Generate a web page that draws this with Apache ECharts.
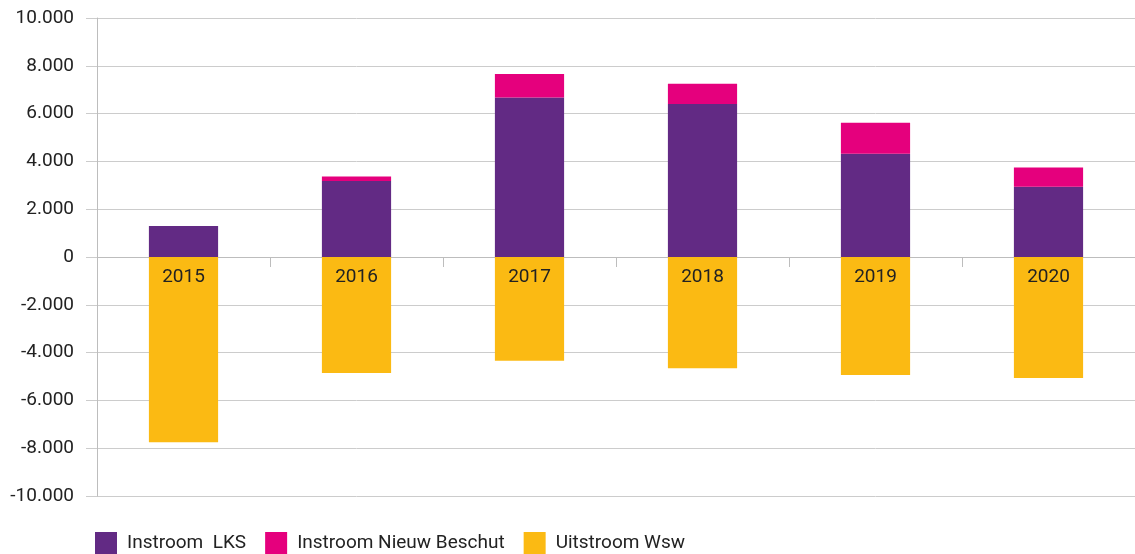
<!DOCTYPE html>
<html><head><meta charset="utf-8">
<script src="https://cdn.jsdelivr.net/npm/echarts@6/dist/echarts.min.js"></script>
<style>html,body{margin:0;padding:0;background:#fff}#c{width:1135px;height:554px}</style>
</head><body><div id="c"></div>
<script>
const years = ['2015','2016','2017','2018','2019','2020'];
const instroomLKS = [1300, 3180, 6670, 6400, 4320, 2940];
const instroomNieuwBeschut = [0, 190, 990, 850, 1300, 810];
const uitstroomWsw = [-7750, -4850, -4340, -4660, -4940, -5060];
const seriesNames = ['Instroom  LKS', 'Instroom Nieuw Beschut', 'Uitstroom Wsw'];

const fmt = v => {
  const s = Math.abs(v).toString().replace(/\B(?=(\d{3})+(?!\d))/g, '.');
  return (v < 0 ? '-' : '') + s;
};
const chart = echarts.init(document.getElementById('c'));
chart.setOption({
  animation: false,
  textStyle: {fontFamily: 'Roboto'},
  grid: {left: 97, right: 0, top: 18, bottom: 58},
  legend: {
    left: 95, top: 532, padding: 0, itemWidth: 22, itemHeight: 22, itemGap: 19,
    icon: 'rect',
    textStyle: {fontSize: 19, color: '#222', fontFamily: 'Roboto', padding: [0,0,0,5]},
    data: seriesNames
  },
  xAxis: {
    type: 'category', data: years,
    axisLine: {onZero: true, lineStyle: {color: '#bdbdbd', width: 1}},
    axisTick: {show: true, length: 10, lineStyle: {color: '#bdbdbd'}},
    axisLabel: {show: false}
  },
  yAxis: {
    type: 'value', min: -10000, max: 10000, interval: 2000,
    axisLine: {show: true, lineStyle: {color: '#bdbdbd'}},
    axisTick: {show: true, length: 11, lineStyle: {color: '#cccccc'}},
    splitLine: {lineStyle: {color: '#cccccc', width: 1}},
    axisLabel: {fontSize: 19, color: '#222', margin: 23, formatter: fmt}
  },
  series: [
    {name: seriesNames[0], type: 'bar', stack: 'a', data: instroomLKS, barWidth: '40%', itemStyle: {color: '#622A84'}},
    {name: seriesNames[1], type: 'bar', stack: 'a', data: instroomNieuwBeschut, barWidth: '40%', itemStyle: {color: '#E5007D'}},
    {name: seriesNames[2], type: 'bar', stack: 'a', data: uitstroomWsw, barWidth: '40%', itemStyle: {color: '#FBBA13'},
     label: {show: true, position: 'insideTop', distance: 11, formatter: p => p.name, fontSize: 19, color: '#222', fontFamily: 'Roboto'}}
  ]
});
</script></body></html>
